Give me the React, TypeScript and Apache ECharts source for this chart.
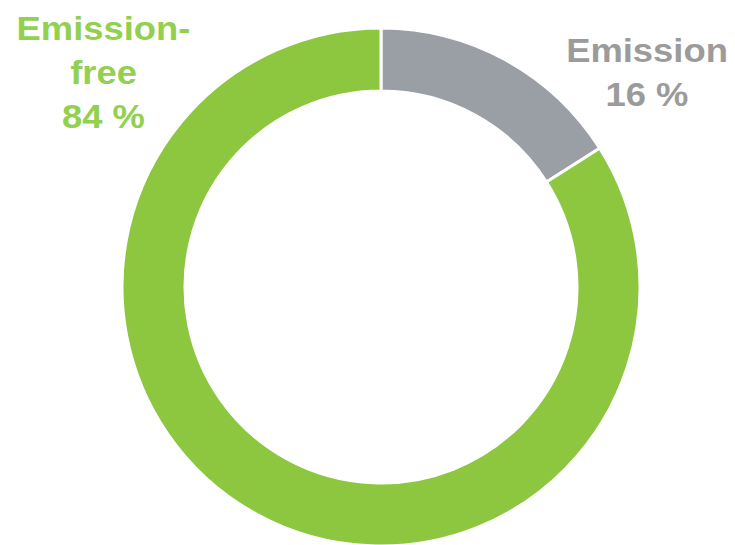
import React, { useEffect, useRef } from "react";
import * as echarts from "echarts";

const categories = ["Emission", "Emission-free"];
const values = [16, 84];
const sliceColors = ["#9A9EA5", "#8DC63F"];
const labelColors = ["#9B9B9B", "#92D050"];
const labelLines = [["Emission", "16 %"], ["Emission-", "free", "84 %"]];

export default function App() {
  const ref = useRef<HTMLDivElement>(null);
  useEffect(() => {
    if (!ref.current) return;
    const chart = echarts.init(ref.current, null, { renderer: "svg" });
    const font = "'Liberation Sans', Arial, sans-serif";
    const labelPos = [
      { x: 647, y0: 67 },
      { x: 103.5, y0: 45 },
    ];
    const graphics: any[] = [];
    labelLines.forEach((lines, i) => {
      lines.forEach((t, j) => {
        graphics.push({
          type: "text",
          x: labelPos[i].x,
          y: labelPos[i].y0 + j * 44,
          scaleX: 1.07,
          style: {
            text: t,
            fill: labelColors[i],
            font: `bold 34px ${font}`,
            textAlign: "center",
            textVerticalAlign: "bottom",
          },
        });
      });
    });
    chart.setOption({
      animation: false,
      backgroundColor: "#ffffff",
      series: [
        {
          type: "pie",
          center: [381, 287],
          radius: [196, 259],
          startAngle: 90,
          clockwise: true,
          label: { show: false },
          labelLine: { show: false },
          emphasis: { disabled: true },
          itemStyle: { borderColor: "#ffffff", borderWidth: 3 },
          data: categories.map((c, i) => ({
            name: c,
            value: values[i],
            itemStyle: { color: sliceColors[i] },
          })),
        },
      ],
      graphic: graphics,
    });
    return () => chart.dispose();
  }, []);
  return (
    <div
      ref={ref}
      style={{ position: "fixed", left: 0, top: 0, width: 735, height: 545 }}
    />
  );
}
